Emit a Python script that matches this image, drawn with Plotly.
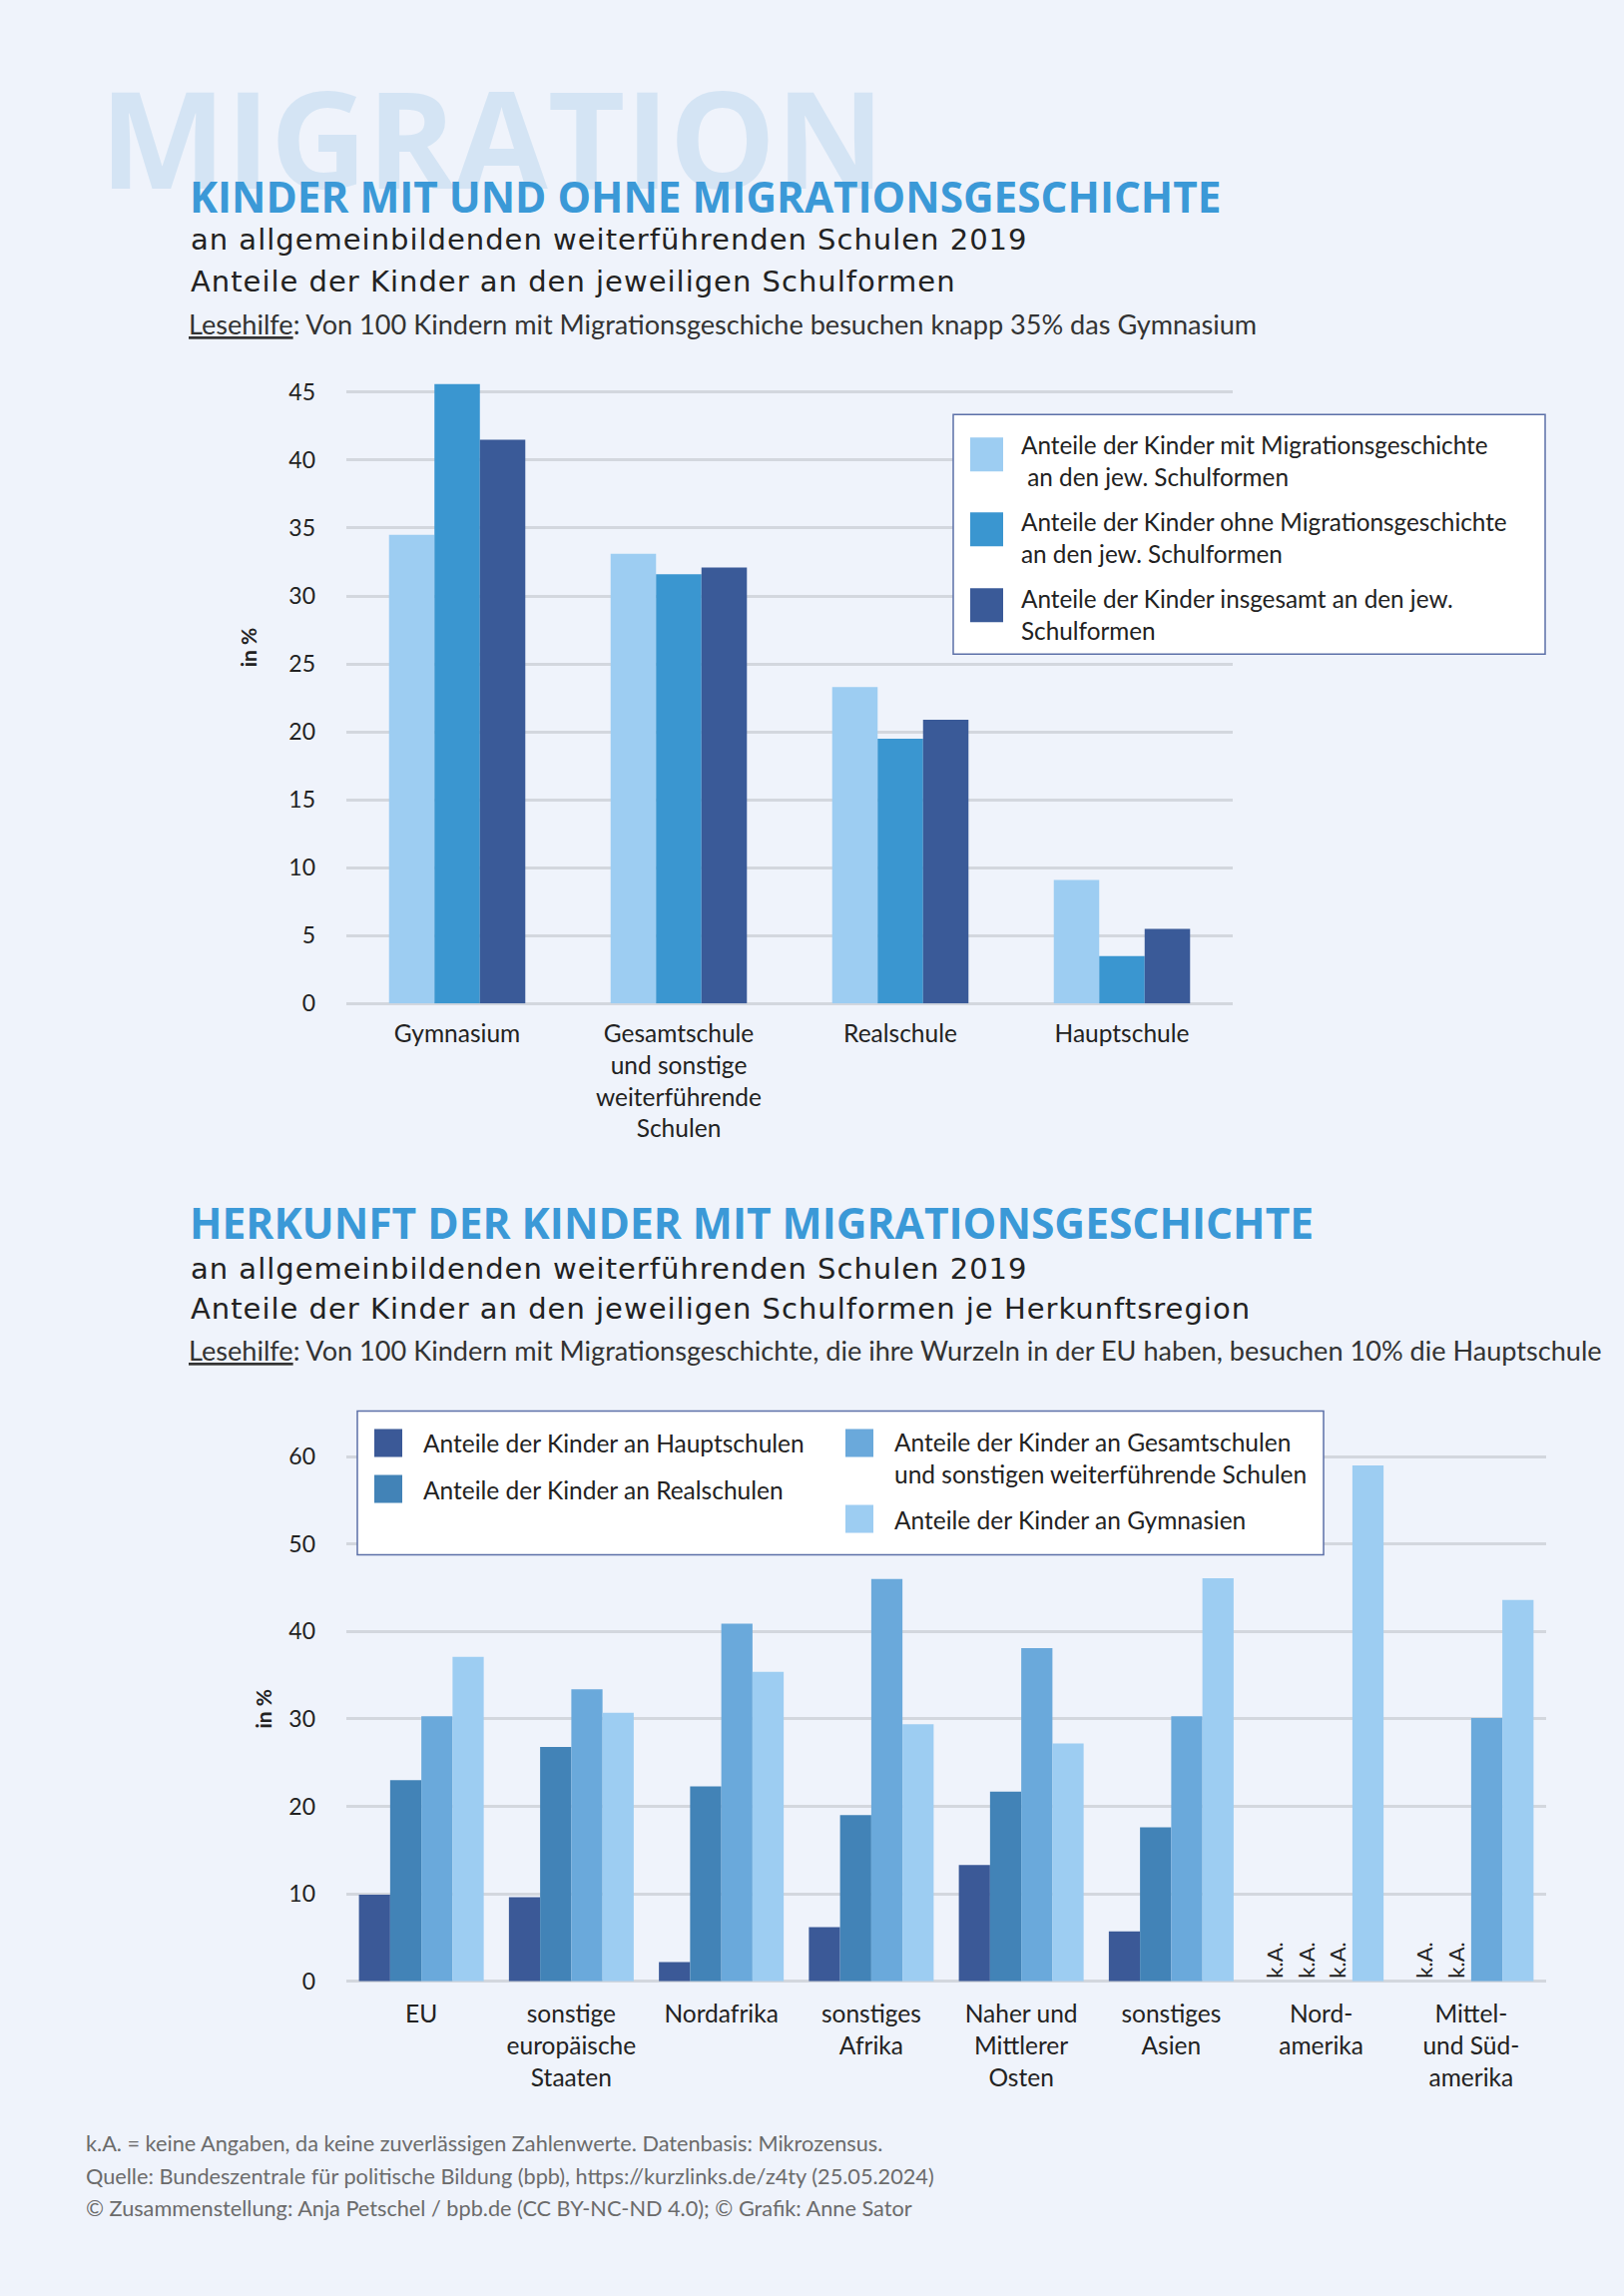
import plotly.graph_objects as go

# ---------------- data ----------------
schulformen = ["Gymnasium", "Gesamtschule<br>und sonstige<br>weiterführende<br>Schulen", "Realschule", "Hauptschule"]
mit_migration = [34.5, 33.1, 23.3, 9.1]
ohne_migration = [45.6, 31.6, 19.5, 3.5]
insgesamt = [41.5, 32.1, 20.9, 5.5]
series1_names = [
    "Anteile der Kinder mit Migrationsgeschichte<br>\u00a0an den jew. Schulformen",
    "Anteile der Kinder ohne Migrationsgeschichte<br>an den jew. Schulformen",
    "Anteile der Kinder insgesamt an den jew.<br>Schulformen",
]
y1_ticks = [0, 5, 10, 15, 20, 25, 30, 35, 40, 45]

regionen = ["EU", "sonstige<br>europäische<br>Staaten", "Nordafrika", "sonstiges<br>Afrika",
            "Naher und<br>Mittlerer<br>Osten", "sonstiges<br>Asien", "Nord-<br>amerika",
            "Mittel-<br>und Süd-<br>amerika"]
hauptschulen = [9.9, 9.6, 2.2, 6.2, 13.3, 5.7, None, None]
realschulen = [23.0, 26.8, 22.3, 19.0, 21.7, 17.6, None, None]
gesamtschulen = [30.3, 33.4, 40.9, 46.0, 38.1, 30.3, None, 30.1]
gymnasien = [37.1, 30.7, 35.4, 29.4, 27.2, 46.1, 59.0, 43.6]
series2_names = [
    "Anteile der Kinder an Hauptschulen",
    "Anteile der Kinder an Realschulen",
    "Anteile der Kinder an Gesamtschulen<br>und sonstigen weiterführende Schulen",
    "Anteile der Kinder an Gymnasien",
]
y2_ticks = [0, 10, 20, 30, 40, 50, 60]
missing_label = "k.A."

# ---------------- styling ----------------
W, H = 1627, 2300
KY = 1 / 0.994  # small vertical correction
BG = "#eff3fb"
FONT = "Lato, 'Liberation Sans', sans-serif"
HEADFONT = "'Open Sans', 'Noto Sans', sans-serif"
SUBFONT = "'DejaVu Sans', Verdana, sans-serif"
GRID = "#d3d7de"
colors1 = ["#9dcdf2", "#3a96d0", "#3a5a98"]
colors2 = ["#3b5997", "#4283b7", "#6aa9db", "#9dcdf2"]


def px(x):
    return x / W


def py(y):
    return 1 - y * KY / H


fig = go.Figure()

# chart 1 bars
w1 = 0.205
for i, (name, vals) in enumerate(zip(series1_names, [mit_migration, ohne_migration, insgesamt])):
    fig.add_trace(go.Bar(
        x=schulformen, y=vals, name=name, width=w1, offset=-1.5 * w1 + i * w1,
        marker=dict(color=colors1[i], line=dict(width=0)),
        xaxis="x", yaxis="y", showlegend=False,
    ))

# chart 2 bars
w2 = 0.208
for i, (name, vals) in enumerate(zip(series2_names, [hauptschulen, realschulen, gesamtschulen, gymnasien])):
    fig.add_trace(go.Bar(
        x=regionen,
        y=[v if v is not None else 0 for v in vals],
        text=[missing_label if v is None else "" for v in vals],
        textposition="outside", textangle=-90, constraintext="none", cliponaxis=False,
        textfont=dict(family=FONT, size=22, color="#222222"),
        name=name, width=w2, offset=-2 * w2 + i * w2,
        marker=dict(color=colors2[i], line=dict(width=0)),
        xaxis="x2", yaxis="y2", showlegend=False,
    ))

xtick = dict(tickfont=dict(family=FONT, size=24.5, color="#222222"), showline=False)
ytick = dict(tickfont=dict(family=FONT, size=23, color="#222222"), showline=False)

fig.update_layout(
    width=W, height=H,
    paper_bgcolor=BG, plot_bgcolor="rgba(0,0,0,0)",
    margin=dict(l=0, r=0, t=0, b=0),
    font=dict(family=FONT, color="#222222"),
    barmode="group",
    showlegend=False,
    xaxis=dict(domain=[px(347), px(1235)], anchor="y", type="category", showgrid=False,
               zeroline=False, ticks="", ticklabelstandoff=13, **xtick),
    yaxis=dict(domain=[py(1005), py(365.5)], anchor="x", range=[0, 47], tickvals=y1_ticks,
               showgrid=True, gridcolor=GRID, gridwidth=2.5, zeroline=True, zerolinecolor=GRID,
               zerolinewidth=2.5, ticks="", ticklabelstandoff=30, **ytick),
    xaxis2=dict(domain=[px(347), px(1549)], anchor="y2", type="category", showgrid=False,
                zeroline=False, ticks="", ticklabelstandoff=16, **xtick),
    yaxis2=dict(domain=[py(1984), py(1432.4)], anchor="x2", range=[0, 63], tickvals=y2_ticks,
                showgrid=True, gridcolor=GRID, gridwidth=2.5, zeroline=True, zerolinecolor=GRID,
                zerolinewidth=2.5, ticks="", ticklabelstandoff=30, **ytick),
)

ann = []
shapes = []


def text(x, y, t, size, color="#222222", family=FONT, bold=False, angle=0, xanchor="left", yanchor="middle"):
    ann.append(dict(
        x=px(x), y=py(y), xref="paper", yref="paper", text=t, showarrow=False,
        xanchor=xanchor, yanchor=yanchor, align="left", textangle=angle,
        font=dict(family=family, size=size, color=color, weight="bold" if bold else "normal"),
    ))


def tracked(t, ls):
    return '<span style="letter-spacing:%spx">%s</span>' % (ls, t)


# header block
text(98, 137, "MIGRATION", 134, color="#d4e4f4", family=HEADFONT, bold=True)
text(188, 196, "KINDER MIT UND OHNE MIGRATIONSGESCHICHTE", 42.3, color="#3b99d7", family=HEADFONT, bold=True)
text(189, 240, tracked("an allgemeinbildenden weiterführenden Schulen 2019", 1), 29, family=SUBFONT)
text(189, 282, tracked("Anteile der Kinder an den jeweiligen Schulformen", 1), 29, family=SUBFONT)
text(187, 324, "<u>Lesehilfe</u>: Von 100 Kindern mit Migrationsgeschiche besuchen knapp 35% das Gymnasium", 27.1, color="#333333")

text(188, 1224.5, "HERKUNFT DER KINDER MIT MIGRATIONSGESCHICHTE", 42.5, color="#3b99d7", family=HEADFONT, bold=True)
text(189, 1271, tracked("an allgemeinbildenden weiterführenden Schulen 2019", 1), 29, family=SUBFONT)
text(189, 1311, tracked("Anteile der Kinder an den jeweiligen Schulformen je Herkunftsregion", 1), 29, family=SUBFONT)
text(187, 1352, "<u>Lesehilfe</u>: Von 100 Kindern mit Migrationsgeschichte, die ihre Wurzeln in der EU haben, besuchen 10% die Hauptschule", 27.1, color="#333333")

# axis titles
text(248, 648, "in %", 21, bold=True, angle=-90, xanchor="center")
text(264, 1711, "in %", 21, bold=True, angle=-90, xanchor="center")

# legend 1
shapes.append(dict(type="rect", xref="paper", yref="paper", x0=px(955), x1=px(1548), y0=py(655), y1=py(415),
                   fillcolor="white", line=dict(color="#5c70a8", width=1.5), layer="above"))
leg1_rows = [(438, 461.5), (513, 538), (589, 615)]
for i, name in enumerate(series1_names):
    top, tc = leg1_rows[i]
    shapes.append(dict(type="rect", xref="paper", yref="paper", x0=px(972), x1=px(1005),
                       y0=py(top + 34), y1=py(top), fillcolor=colors1[i], line=dict(width=0), layer="above"))
    text(1021, tc, name, 24.3)

# legend 2
shapes.append(dict(type="rect", xref="paper", yref="paper", x0=px(358), x1=px(1326), y0=py(1557), y1=py(1413),
                   fillcolor="white", line=dict(color="#5c70a8", width=1.5), layer="above"))
leg2_pos = [(375, 1431, 1445), (375, 1477, 1491.5), (847, 1431, 1460), (847, 1507, 1521.5)]
for i, name in enumerate(series2_names):
    sx, top, tc = leg2_pos[i]
    shapes.append(dict(type="rect", xref="paper", yref="paper", x0=px(sx), x1=px(sx + 28),
                       y0=py(top + 28), y1=py(top), fillcolor=colors2[i], line=dict(width=0), layer="above"))
    text(sx + 47, tc, name, 24.5)

# footnotes
text(84, 2146, "k.A. = keine Angaben, da keine zuverlässigen Zahlenwerte. Datenbasis: Mikrozensus.", 21.7, color="#6b6b6b")
text(84, 2179, "Quelle: Bundeszentrale für politische Bildung (bpb), https://kurzlinks.de/z4ty (25.05.2024)", 21.7, color="#6b6b6b")
text(84, 2211, "© Zusammenstellung: Anja Petschel / bpb.de (CC BY-NC-ND 4.0); © Grafik: Anne Sator", 21.7, color="#6b6b6b")

fig.update_layout(annotations=ann, shapes=shapes)
fig.write_html(
    "out.html",
    config={"displayModeBar": False},
    post_script="document.body.style.margin='0';document.body.style.background='%s';"
                "document.documentElement.style.overflow='hidden';" % BG,
)
